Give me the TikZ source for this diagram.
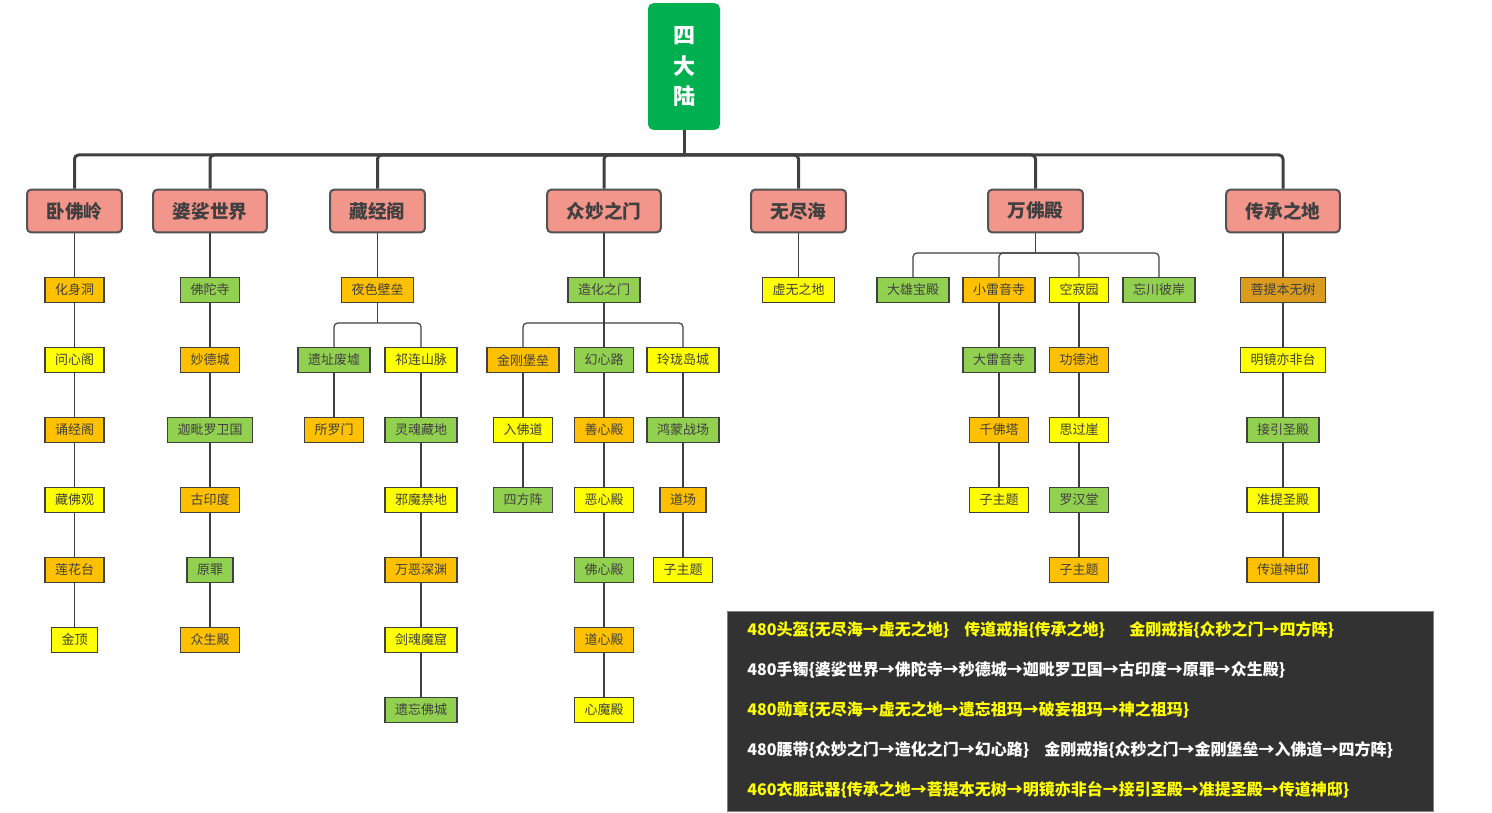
\documentclass[tikz,border=0pt]{standalone}
\usepackage{fontspec}
\newfontfamily\cjk{Noto Sans CJK SC}
\definecolor{rootgreen}{HTML}{00B050}
\definecolor{landpink}{HTML}{F2968C}
\definecolor{cOrange}{HTML}{FFC000}
\definecolor{cYellow}{HTML}{FFFF00}
\definecolor{cGreen}{HTML}{92D050}
\definecolor{cGold}{HTML}{DA9B1E}
\definecolor{linegray}{HTML}{404040}
\definecolor{panelgray}{HTML}{323232}
\begin{document}
\begin{tikzpicture}[x=0.75pt, y=-0.75pt,
  rootbox/.style={fill=rootgreen, rounded corners=4pt, minimum width=54pt, minimum height=95pt,
    text=white, align=center, font=\cjk\bfseries\fontsize{16.5}{23}\selectfont},
  landbox/.style={fill=landpink, draw=linegray!90, line width=1.5pt, rounded corners=3pt,
    minimum height=32pt, inner xsep=14.6pt, text=linegray, font=\cjk\bfseries\fontsize{14}{16}\selectfont},
  placebox/.style={draw=linegray, line width=0.8pt, minimum height=18.75pt, inner xsep=7.5pt,
    text=linegray, font=\cjk\fontsize{9.75}{11}\selectfont},
  orangebox/.style={placebox, fill=cOrange},
  yellowbox/.style={placebox, fill=cYellow},
  greenbox/.style={placebox, fill=cGreen},
  goldbox/.style={placebox, fill=cGold},
  trunk/.style={draw=linegray, line width=2.25pt, rounded corners=3pt},
  link/.style={draw=linegray, line width=0.9pt, rounded corners=3pt},
  note/.style={anchor=west, inner sep=0pt, font=\cjk\bfseries\fontsize{12}{14}\selectfont}]

\useasboundingbox (0,0) rectangle (1492,813);

% Root
\node[rootbox] (root) at (684,66.5) {四\\大\\陆};

% Continents
\node[landbox] (wfl) at (74.5,211) {卧佛岭};
\node[landbox] (psj) at (210,211) {婆娑世界};
\node[landbox] (cjg) at (377.5,211) {藏经阁};
\node[landbox] (zmm) at (604,211) {众妙之门};
\node[landbox] (wjh) at (798.5,211) {无尽海};
\node[landbox] (wfd) at (1035.5,211) {万佛殿};
\node[landbox] (ccd) at (1283,211) {传承之地};

% Trunk
\coordinate (bus) at (0,155);
\draw[trunk] (root.south) -- (root.south |- bus);
\draw[trunk] (root.south |- bus) -| (wfl.north);
\draw[trunk] (root.south |- bus) -| (psj.north);
\draw[trunk] (root.south |- bus) -| (cjg.north);
\draw[trunk] (root.south |- bus) -| (zmm.north);
\draw[trunk] (root.south |- bus) -| (wjh.north);
\draw[trunk] (root.south |- bus) -| (wfd.north);
\draw[trunk] (root.south |- bus) -| (ccd.north);

% Wofoling
\node[orangebox] (w1) at (74.5,290) {化身洞};
\node[yellowbox] (w2) at (74.5,360) {问心阁};
\node[orangebox] (w3) at (74.5,430) {诵经阁};
\node[yellowbox] (w4) at (74.5,500) {藏佛观};
\node[orangebox] (w5) at (74.5,570) {莲花台};
\node[yellowbox] (w6) at (74.5,640) {金顶};

\draw[link] (wfl) -- (w1);
\draw[link] (w1) -- (w2);
\draw[link] (w2) -- (w3);
\draw[link] (w3) -- (w4);
\draw[link] (w4) -- (w5);
\draw[link] (w5) -- (w6);

% Suoposhijie
\node[greenbox] (p1) at (210,290) {佛陀寺};
\node[orangebox] (p2) at (210,360) {妙德城};
\node[greenbox] (p3) at (210,430) {迦毗罗卫国};
\node[orangebox] (p4) at (210,500) {古印度};
\node[greenbox] (p5) at (210,570) {原罪};
\node[orangebox] (p6) at (210,640) {众生殿};

\draw[link] (psj) -- (p1);
\draw[link] (p1) -- (p2);
\draw[link] (p2) -- (p3);
\draw[link] (p3) -- (p4);
\draw[link] (p4) -- (p5);
\draw[link] (p5) -- (p6);

% Cangjingge
\node[orangebox] (c1) at (377.5,290) {夜色壁垒};
\node[greenbox] (c2) at (334,360) {遗址废墟};
\node[orangebox] (c3) at (334,430) {所罗门};
\node[yellowbox] (c4) at (421,360) {祁连山脉};
\node[greenbox] (c5) at (421,430) {灵魂藏地};
\node[yellowbox] (c6) at (421,500) {邪魔禁地};
\node[orangebox] (c7) at (421,570) {万恶深渊};
\node[yellowbox] (c8) at (421,640) {剑魂魔窟};
\node[greenbox] (c9) at (421,710) {遗忘佛城};

\coordinate (cfork) at (377.5,323);
\draw[link] (cjg) -- (c1);
\draw[link] (c1.south) -- (cfork);
\draw[link] (cfork) -| (c2.north);
\draw[link] (cfork) -| (c4.north);
\draw[link] (c2) -- (c3);
\draw[link] (c4) -- (c5);
\draw[link] (c5) -- (c6);
\draw[link] (c6) -- (c7);
\draw[link] (c7) -- (c8);
\draw[link] (c8) -- (c9);

% Zhongmiaozhimen
\node[greenbox] (z1) at (604,290) {造化之门};
\node[orangebox] (z2) at (523,360) {金刚堡垒};
\node[yellowbox] (z3) at (523,430) {入佛道};
\node[greenbox] (z4) at (523,500) {四方阵};
\node[greenbox] (z5) at (604,360) {幻心路};
\node[orangebox] (z6) at (604,430) {善心殿};
\node[yellowbox] (z7) at (604,500) {恶心殿};
\node[greenbox] (z8) at (604,570) {佛心殿};
\node[orangebox] (z9) at (604,640) {道心殿};
\node[yellowbox] (z10) at (604,710) {心魔殿};
\node[yellowbox] (z11) at (683,360) {玲珑岛城};
\node[greenbox] (z12) at (683,430) {鸿蒙战场};
\node[orangebox] (z13) at (683,500) {道场};
\node[yellowbox] (z14) at (683,570) {子主题};

\coordinate (zfork) at (604,323);
\draw[link] (zmm) -- (z1);
\draw[link] (z1.south) -- (zfork);
\draw[link] (zfork) -| (z2.north);
\draw[link] (zfork) -| (z5.north);
\draw[link] (zfork) -| (z11.north);
\draw[link] (z2) -- (z3);
\draw[link] (z3) -- (z4);
\draw[link] (z5) -- (z6);
\draw[link] (z6) -- (z7);
\draw[link] (z7) -- (z8);
\draw[link] (z8) -- (z9);
\draw[link] (z9) -- (z10);
\draw[link] (z11) -- (z12);
\draw[link] (z12) -- (z13);
\draw[link] (z13) -- (z14);

% Wujinhai
\node[yellowbox] (h1) at (798.5,290) {虚无之地};

\draw[link] (wjh) -- (h1);

% Wanfodian
\node[greenbox] (f1) at (913,290) {大雄宝殿};
\node[orangebox] (f2) at (999,290) {小雷音寺};
\node[greenbox] (f3) at (999,360) {大雷音寺};
\node[orangebox] (f4) at (999,430) {千佛塔};
\node[yellowbox] (f5) at (999,500) {子主题};
\node[yellowbox] (f6) at (1079,290) {空寂园};
\node[orangebox] (f7) at (1079,360) {功德池};
\node[yellowbox] (f8) at (1079,430) {思过崖};
\node[greenbox] (f9) at (1079,500) {罗汉堂};
\node[orangebox] (f10) at (1079,570) {子主题};
\node[greenbox] (f11) at (1159,290) {忘川彼岸};

\coordinate (ffork) at (1035.5,253);
\draw[link] (wfd.south) -- (ffork);
\draw[link] (ffork) -| (f1.north);
\draw[link] (ffork) -| (f2.north);
\draw[link] (ffork) -| (f6.north);
\draw[link] (ffork) -| (f11.north);
\draw[link] (f2) -- (f3);
\draw[link] (f3) -- (f4);
\draw[link] (f4) -- (f5);
\draw[link] (f6) -- (f7);
\draw[link] (f7) -- (f8);
\draw[link] (f8) -- (f9);
\draw[link] (f9) -- (f10);

% Chuanchengzhidi
\node[goldbox] (s1) at (1283,290) {菩提本无树};
\node[yellowbox] (s2) at (1283,360) {明镜亦非台};
\node[greenbox] (s3) at (1283,430) {接引圣殿};
\node[yellowbox] (s4) at (1283,500) {准提圣殿};
\node[orangebox] (s5) at (1283,570) {传道神邸};

\draw[link] (ccd) -- (s1);
\draw[link] (s1) -- (s2);
\draw[link] (s2) -- (s3);
\draw[link] (s3) -- (s4);
\draw[link] (s4) -- (s5);

% Gear notes
\draw[fill=panelgray, draw=gray, line width=0.75pt] (727,611) rectangle (1433,811);
\node[note, text=cYellow] (n1) at (747,630) {480头盔\{无尽海→虚无之地\}};
\node[note, text=cYellow] (n1b) at (964,630) {传道戒指\{传承之地\}};
\node[note, text=cYellow] (n1c) at (1129,630) {金刚戒指\{众秒之门→四方阵\}};
\node[note, text=white] (n2) at (747,670) {480手镯\{婆娑世界→佛陀寺→秒德城→迦毗罗卫国→古印度→原罪→众生殿\}};
\node[note, text=cYellow] (n3) at (747,710) {480勋章\{无尽海→虚无之地→遗忘祖玛→破妄祖玛→神之祖玛\}};
\node[note, text=white] (n4) at (747,750) {480腰带\{众妙之门→造化之门→幻心路\}};
\node[note, text=white] (n4b) at (1044,750) {金刚戒指\{众秒之门→金刚堡垒→入佛道→四方阵\}};
\node[note, text=cYellow] (n5) at (747,790) {460衣服武器\{传承之地→菩提本无树→明镜亦非台→接引圣殿→准提圣殿→传道神邸\}};

\end{tikzpicture}
\end{document}
